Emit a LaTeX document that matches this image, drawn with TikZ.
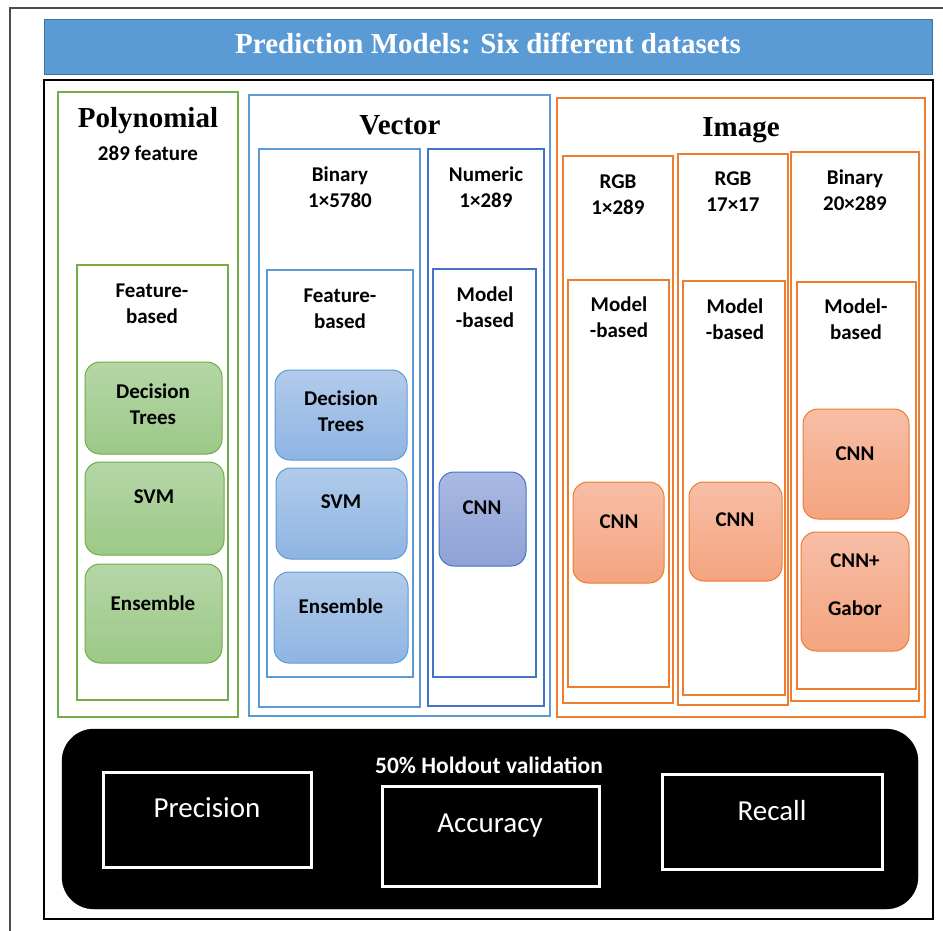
\documentclass[tikz,border=0pt]{standalone}
\usepackage{fontspec}
\setmainfont{Carlito}
\newfontfamily\serifbold{Liberation Serif}
\usetikzlibrary{fit}
\definecolor{gline}{HTML}{70AD47}
\definecolor{gtop}{HTML}{B5D6A7}
\definecolor{gbot}{HTML}{9CC987}
\definecolor{bline}{HTML}{5B9BD5}
\definecolor{btop}{HTML}{B1CBEA}
\definecolor{bbot}{HTML}{8FB4E3}
\definecolor{dline}{HTML}{4472C4}
\definecolor{dtop}{HTML}{AAB9E3}
\definecolor{dbot}{HTML}{8EA2D6}
\definecolor{oline}{HTML}{ED7D31}
\definecolor{otop}{HTML}{F7BEA6}
\definecolor{obot}{HTML}{F4A47F}
\definecolor{banner}{HTML}{5B9BD5}
\definecolor{bannerline}{HTML}{41719C}
\begin{document}
\begin{tikzpicture}[x=1pt,y=-1pt,
  frame/.style={draw, line width=2pt, inner sep=0pt, rectangle},
  algo/.style={draw, line width=1pt, inner sep=0pt, rectangle, rounded corners=15pt},
  greenalgo/.style={algo, draw=gline, top color=gtop, bottom color=gbot},
  bluealgo/.style={algo, draw=bline, top color=btop, bottom color=bbot},
  darkalgo/.style={algo, draw=dline, top color=dtop, bottom color=dbot},
  orangealgo/.style={algo, draw=oline, top color=otop, bottom color=obot},
  lab/.style={inner sep=0pt, align=center, font=\fontsize{21}{26}\selectfont\bfseries},
  title/.style={inner sep=0pt, font=\fontsize{29}{32}\selectfont\serifbold\bfseries},
  metric/.style={draw=white, line width=3pt, fill=black, inner sep=0pt, rectangle},
  metrictext/.style={inner sep=0pt, text=white, font=\fontsize{29}{32}\selectfont}
]
\useasboundingbox (0,0) rectangle (943,931);
\fill[white] (0,0) rectangle (943,931);
% outer page frame
\coordinate (pbl) at (10,935);
\coordinate (ptl) at (10,8);
\coordinate (ptr) at (950,8);
\draw[line width=1.2pt, black!70] (pbl) -- (ptl) -- (ptr);
% banner
\node[fill=banner, draw=bannerline, line width=1pt, inner sep=0pt, fit={(44,20) (932,75)}] (banner) {};
\node[inner sep=0pt, text=white, font=\fontsize{29}{32}\selectfont\serifbold\bfseries] (bannertext) at (488,43) {Prediction Models: Six different datasets};
% inner frame
\node[frame, draw=black, fit={(44,80) (933,919)}] (inner) {};
% Polynomial
\node[frame, draw=gline, fit={(58,92) (238,717)}] (poly) {};
\node[title] (polyt) at (148,121) {Polynomial};
\node[lab] (polyf) at (148,153) {289 feature};
\node[frame, draw=gline, fit={(77,265) (228,700)}] (polyfb) {};
\node[lab] (polyfbt) at (152,303.5) {Feature-\\based};
\node[greenalgo, fit={(85,362) (222,454)}] (gdt) {};
\node[lab] (gdtt) at (153,404) {Decision\\Trees};
\node[greenalgo, fit={(85,462) (224,555)}] (gsvm) {};
\node[lab] (gsvmt) at (154,497) {SVM};
\node[greenalgo, fit={(85,564) (222,663)}] (gens) {};
\node[lab] (genst) at (153,603) {Ensemble};
% Vector
\node[frame, draw=bline, fit={(249,95) (550,716)}] (vec) {};
\node[title] (vect) at (400,125) {Vector};
\node[frame, draw=bline, fit={(259,149) (420,707)}] (vbin) {};
\node[lab] (vbint) at (340,187) {Binary\\1×5780};
\node[frame, draw=bline, fit={(267,270) (413,677)}] (vfb) {};
\node[lab] (vfbt) at (340,309) {Feature-\\based};
\node[bluealgo, fit={(275,370) (407,460)}] (bdt) {};
\node[lab] (bdtt) at (341,411.5) {Decision\\Trees};
\node[bluealgo, fit={(276,468) (407,559)}] (bsvm) {};
\node[lab] (bsvmt) at (341,502) {SVM};
\node[bluealgo, fit={(274,572) (408,663)}] (bens) {};
\node[lab] (benst) at (341,606) {Ensemble};
\node[frame, draw=dline, fit={(428,149) (544,706)}] (vnum) {};
\node[lab] (vnumt) at (486,187) {Numeric\\1×289};
\node[frame, draw=dline, fit={(433,269) (536,677)}] (vmb) {};
\node[lab] (vmbt) at (485,307.5) {Model\\-based};
\node[darkalgo, fit={(439,472) (526,566)}] (vcnn) {};
\node[lab] (vcnnt) at (482,508) {CNN};
% Image
\node[frame, draw=oline, fit={(557,98) (925,717)}] (img) {};
\node[title] (imgt) at (741,130) {Image};
\node[frame, draw=oline, fit={(563,156) (673,703)}] (s1) {};
\node[lab] (s1t) at (618,195) {RGB\\1×289};
\node[frame, draw=oline, fit={(568,280) (669,687)}] (s1m) {};
\node[lab] (s1mt) at (619,317.5) {Model\\-based};
\node[orangealgo, fit={(573,482) (664,583)}] (s1cnn) {};
\node[lab] (s1cnnt) at (619,522) {CNN};
\node[frame, draw=oline, fit={(678,154) (788,705)}] (s2) {};
\node[lab] (s2t) at (733,192) {RGB\\17×17};
\node[frame, draw=oline, fit={(683,281) (785,695)}] (s2m) {};
\node[lab] (s2mt) at (735,319.5) {Model\\-based};
\node[orangealgo, fit={(689,482) (782,581)}] (s2cnn) {};
\node[lab] (s2cnnt) at (735,520) {CNN};
\node[frame, draw=oline, fit={(791,152) (919,701)}] (s3) {};
\node[lab] (s3t) at (855,190) {Binary\\20×289};
\node[frame, draw=oline, fit={(797,282) (916,689)}] (s3m) {};
\node[lab] (s3mt) at (856,319) {Model-\\based};
\node[orangealgo, fit={(803,409) (909,519)}] (s3cnn) {};
\node[lab] (s3cnnt) at (855,454) {CNN};
\node[orangealgo, fit={(801,532) (909,651)}] (s3cg) {};
\node[lab, font=\fontsize{21}{48}\selectfont\bfseries] (s3cgt) at (855,585) {CNN+\\Gabor};
% Validation
\node[fill=black, draw=black, rounded corners=32pt, inner sep=0pt, fit={(62,729) (918,909)}] (val) {};
\node[lab, text=white, font=\fontsize{23.5}{26}\selectfont\bfseries] (valt) at (489,765) {50\% Holdout validation};
\node[metric, fit={(103,772) (311,867)}] (prec) {};
\node[metrictext] (prect) at (207,808) {Precision};
\node[metric, fit={(382,786) (599,886)}] (acc) {};
\node[metrictext] (acct) at (490,826) {Accuracy};
\node[metric, fit={(662,774) (882,869)}] (rec) {};
\node[metrictext] (rect) at (772,811) {Recall};
\end{tikzpicture}
\end{document}
